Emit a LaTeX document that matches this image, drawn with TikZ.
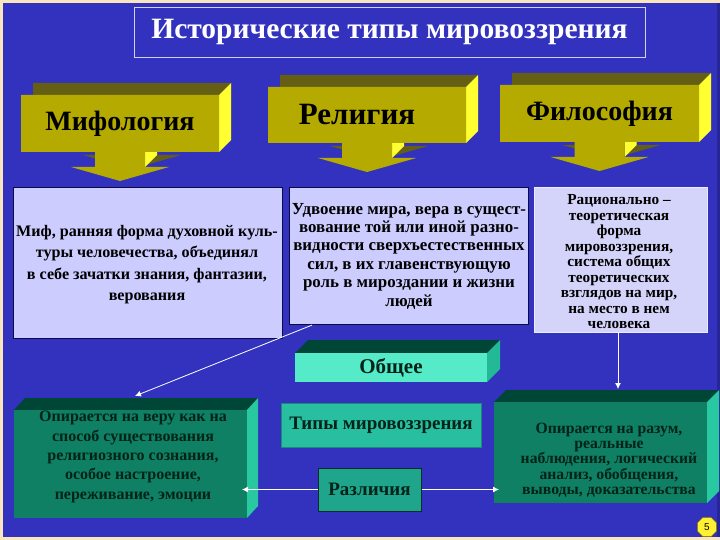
\documentclass[tikz,border=0pt]{standalone}
\usepackage{fontspec}
\setmainfont{Liberation Serif}
\setsansfont{Liberation Sans}
\usetikzlibrary{arrows.meta,calc,shapes.geometric}
\definecolor{bgblue}{RGB}{50,50,190}
\definecolor{bgedge}{RGB}{38,38,150}
\definecolor{cream}{RGB}{250,230,190}
\definecolor{lav}{RGB}{204,204,255}
\definecolor{lavb}{RGB}{212,212,250}
\definecolor{navy}{RGB}{10,10,70}
\definecolor{yfront}{RGB}{180,170,0}
\definecolor{ydark}{RGB}{100,95,20}
\definecolor{yside}{RGB}{255,255,50}
\definecolor{gfront}{RGB}{16,128,100}
\definecolor{gdark}{RGB}{0,70,55}
\definecolor{gside}{RGB}{40,200,160}
\definecolor{cfront}{RGB}{85,235,200}
\definecolor{cside}{RGB}{35,185,150}
\definecolor{tfill}{RGB}{40,190,160}
\definecolor{rfill}{RGB}{30,165,140}
\definecolor{gtext}{RGB}{0,35,25}
\definecolor{octy}{RGB}{255,240,50}
\tikzset{
  headtext/.style={font=\fontsize{28}{30}\selectfont\bfseries, text=black, inner sep=0pt},
  lavbox/.style={fill=lav, draw=navy, line width=1.1pt, inner sep=0pt, anchor=north west},
  paratext/.style={align=center, text=black, inner sep=0pt},
  labeltext/.style={font=\fontsize{19}{21}\selectfont\bfseries, text=gtext, inner sep=0pt},
  conn/.style={draw=white, line width=0.8pt, -{Latex[length=6pt,width=6pt]}},
}
\newcommand\yarrowbox[6]{%
  \pgfmathsetmacro\ycx{(#1+#3)/2}%
  \pgfmathsetmacro\ysa{\ycx-25}\pgfmathsetmacro\ysb{\ycx+25}%
  \pgfmathsetmacro\yha{\ycx-49}\pgfmathsetmacro\yhb{\ycx+49}%
  \pgfmathsetmacro\yhy{#4+15}\pgfmathsetmacro\yty{#4+29}%
  \pgfmathsetmacro\ycy{(#2+#4)/2}%
  \pgfmathsetmacro\ywd{#3-#1}\pgfmathsetmacro\yht{#4-#2}%
  \fill[ydark, shift={(12,-12)}] (#1,#2) -- (#3,#2) -- (#3,#4) -- (\ysb,#4) -- (\ysb,\yhy) -- (\yhb,\yhy) -- (\ycx,\yty) -- (\yha,\yhy) -- (\ysa,\yhy) -- (\ysa,#4) -- (#1,#4) -- cycle;
  \fill[yside] (#3,#2) -- ++(12,-12) -- ++(0,\yht) -- (#3,#4) -- cycle;
  \fill[yside] (\ysb,#4) -- ++(12,-12) -- ++(0,15) -- (\ysb,\yhy) -- cycle;
  \fill[yfront] (#1,#2) -- (#3,#2) -- (#3,#4) -- (\ysb,#4) -- (\ysb,\yhy) -- (\yhb,\yhy) -- (\ycx,\yty) -- (\yha,\yhy) -- (\ysa,\yhy) -- (\ysa,#4) -- (#1,#4) -- cycle;
  \node[headtext, minimum width=\ywd, minimum height=\yht] (#5) at (\ycx,\ycy) {#6};
}
\begin{document}
\begin{tikzpicture}[x=1pt,y=-1pt]
\useasboundingbox (0,0) rectangle (720,540);
% background
\fill[cream] (0,0) rectangle (720,540);
\fill[bgblue] (3,3) rectangle (720,537);
\fill[bgedge] (717,3) rectangle (720,537);
% title
\node[draw={rgb,255:red,210;green,210;blue,235}, line width=0.9pt, minimum width=511, minimum height=50, inner sep=0pt,
      font=\fontsize{29.5}{31}\selectfont\bfseries, text=white] (title) at (389.5,32) {Исторические типы мировоззрения};
% yellow headers
\yarrowbox{21}{95}{219}{152}{myth}{Мифология}
\yarrowbox{268}{87}{466}{143}{rel}{\hspace*{-20pt}\fontsize{31}{33}\selectfont Религия}
\yarrowbox{500}{85}{699}{142}{phil}{Философия}
% lavender boxes
\node[lavbox, minimum width=269, minimum height=151] (b1) at (13,187) {};
\node[paratext, font=\fontsize{16.1}{21.5}\selectfont\bfseries] (t1) at (147,264.5)
  {Миф, ранняя форма духовной куль-\\туры человечества, объединял\\в себе зачатки знания, фантазии,\\верования};
\node[lavbox, minimum width=239, minimum height=137] (b2) at (289,187) {};
\node[paratext, font=\fontsize{16.9}{18.4}\selectfont\bfseries] (t2) at (409,256)
  {Удвоение мира, вера в сущест-\\вование той или иной разно-\\видности сверхъестественных\\сил, в их главенствующую\\роль в мироздании и жизни\\людей};
\node[lavbox, fill=lavb, draw={rgb,255:red,235;green,235;blue,255}, line width=0.8pt, minimum width=173, minimum height=145] (b3) at (534,187) {};
\node[paratext, font=\fontsize{15.3}{15.5}\selectfont\bfseries] (t3) at (619,262)
  {Рационально –\\теоретическая\\форма\\мировоззрения,\\система общих\\теоретических\\взглядов на мир,\\на место в нем\\человека};
% Общее 3D box
\fill[gdark] (295,353) -- (308,340) -- (500,340) -- (487,353) -- cycle;
\fill[cside] (487,353) -- (500,340) -- (500,369) -- (487,382) -- cycle;
\node[fill=cfront, minimum width=192, minimum height=29, inner sep=0pt, labeltext, font=\fontsize{21}{23}\selectfont\bfseries] (common) at (391,367.5) {Общее};
% Типы мировоззрения
\node[fill=tfill, draw={rgb,255:red,25;green,140;blue,115}, line width=0.6pt, minimum width=200, minimum height=44, inner sep=0pt, labeltext] (types) at (381,425) {Типы мировоззрения};
% Различия
\node[fill=rfill, draw={rgb,255:red,0;green,45;blue,40}, line width=1pt, minimum width=103, minimum height=43, inner sep=0pt, labeltext] (diff) at (369.5,489.5) {Различия};
% left green box
\fill[gdark] (14,410) -- (25,398) -- (258,398) -- (247,410) -- cycle;
\fill[gside] (247,410) -- (258,398) -- (258,506) -- (247,518) -- cycle;
\node[fill=gfront, minimum width=233, minimum height=108, inner sep=0pt] (gl) at (130.5,464) {};
\node[paratext, text=gtext, font=\fontsize{16}{19.4}\selectfont\bfseries] (tgl) at (133,457)
  {Опирается на веру как на\\способ существования\\религиозного сознания,\\особое настроение,\\переживание, эмоции};
% right green box
\fill[gdark] (494,402) -- (506,390) -- (719,390) -- (707,402) -- cycle;
\fill[gside] (707,402) -- (719,390) -- (719,491) -- (707,503) -- cycle;
\node[fill=gfront, minimum width=213, minimum height=101, inner sep=0pt] (gr) at (600.5,452.5) {};
\node[paratext, text=gtext, font=\fontsize{15.7}{15.2}\selectfont\bfseries] (tgr) at (609,460)
  {Опирается на разум,\\реальные\\наблюдения, логический\\анализ, обобщения,\\выводы, доказательства};
% connectors
\coordinate (c1) at ($(b2.south west)+(23,0)$);
\coordinate (c1e) at (135,396);
\draw[conn] (c1) -- (c1e);
\coordinate (c2) at (618,332);
\draw[conn] (c2) -- (618,389);
\coordinate (c3) at (242,489.5);
\draw[conn] (diff.west) -- (c3);
\coordinate (c4) at (499,489.5);
\draw[conn] (diff.east) -- (c4);
% page number
\node[regular polygon, regular polygon sides=8, fill=octy, draw={rgb,255:red,120;green,110;blue,0}, line width=0.5pt, minimum size=21, inner sep=0pt, font=\sffamily\fontsize{10}{10}\selectfont] (pg) at (707,527) {5};
\end{tikzpicture}
\end{document}
